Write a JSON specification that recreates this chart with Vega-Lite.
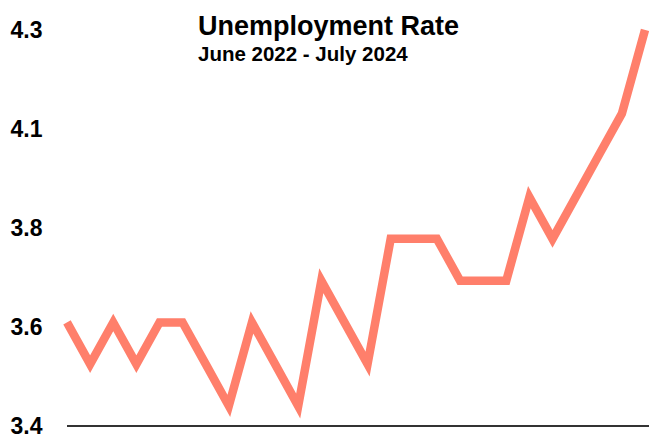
{
  "$schema": "https://vega.github.io/schema/vega-lite/v6.json",
  "width": 582,
  "height": 396,
  "autosize": "none",
  "padding": {"left": 67, "top": 30, "right": 0, "bottom": 9},
  "background": "white",
  "config": {"view": {"stroke": null}},
  "title": {
    "text": "Unemployment Rate",
    "subtitle": "June 2022 - July 2024",
    "anchor": "start",
    "frame": "group",
    "dx": 131,
    "offset": -53,
    "font": "Liberation Sans",
    "fontSize": 27,
    "fontWeight": "bold",
    "color": "black",
    "subtitleFont": "Liberation Sans",
    "subtitleFontSize": 20.5,
    "subtitleFontWeight": "bold",
    "subtitleColor": "black",
    "subtitlePadding": 4
  },
  "data": {
    "values": [
      {"month": "Jun 2022", "rate": 3.6},
      {"month": "Jul 2022", "rate": 3.5},
      {"month": "Aug 2022", "rate": 3.6},
      {"month": "Sep 2022", "rate": 3.5},
      {"month": "Oct 2022", "rate": 3.6},
      {"month": "Nov 2022", "rate": 3.6},
      {"month": "Dec 2022", "rate": 3.5},
      {"month": "Jan 2023", "rate": 3.4},
      {"month": "Feb 2023", "rate": 3.6},
      {"month": "Mar 2023", "rate": 3.5},
      {"month": "Apr 2023", "rate": 3.4},
      {"month": "May 2023", "rate": 3.7},
      {"month": "Jun 2023", "rate": 3.6},
      {"month": "Jul 2023", "rate": 3.5},
      {"month": "Aug 2023", "rate": 3.8},
      {"month": "Sep 2023", "rate": 3.8},
      {"month": "Oct 2023", "rate": 3.8},
      {"month": "Nov 2023", "rate": 3.7},
      {"month": "Dec 2023", "rate": 3.7},
      {"month": "Jan 2024", "rate": 3.7},
      {"month": "Feb 2024", "rate": 3.9},
      {"month": "Mar 2024", "rate": 3.8},
      {"month": "Apr 2024", "rate": 3.9},
      {"month": "May 2024", "rate": 4.0},
      {"month": "Jun 2024", "rate": 4.1},
      {"month": "Jul 2024", "rate": 4.3}
    ]
  },
  "layer": [
    {
      "mark": {"type": "line", "stroke": "#FF7F6B", "strokeWidth": 8.5, "strokeJoin": "miter", "strokeCap": "butt", "clip": false},
      "encoding": {
        "x": {
          "field": "month",
          "type": "ordinal",
          "sort": null,
          "scale": {"type": "point", "padding": 0, "range": [0, 578]},
          "axis": null
        },
        "y": {
          "field": "rate",
          "type": "quantitative",
          "scale": {"domain": [3.352, 4.3], "nice": false, "zero": false},
          "axis": {
            "title": null,
            "values": [3.352, 3.589, 3.826, 4.063, 4.3],
            "format": ".1f",
            "domain": false,
            "ticks": false,
            "tickSize": 0,
            "grid": false,
            "labelOverlap": false,
            "labelFont": "Liberation Sans",
            "labelFontSize": 23,
            "labelFontWeight": "bold",
            "labelColor": "black",
            "labelAlign": "left",
            "labelBaseline": "middle",
            "labelPadding": 57
          }
        }
      }
    },
    {
      "mark": {"type": "rule", "stroke": "#333333", "strokeWidth": 2},
      "encoding": {
        "y": {"datum": 3.352, "type": "quantitative"}
      }
    }
  ]
}
